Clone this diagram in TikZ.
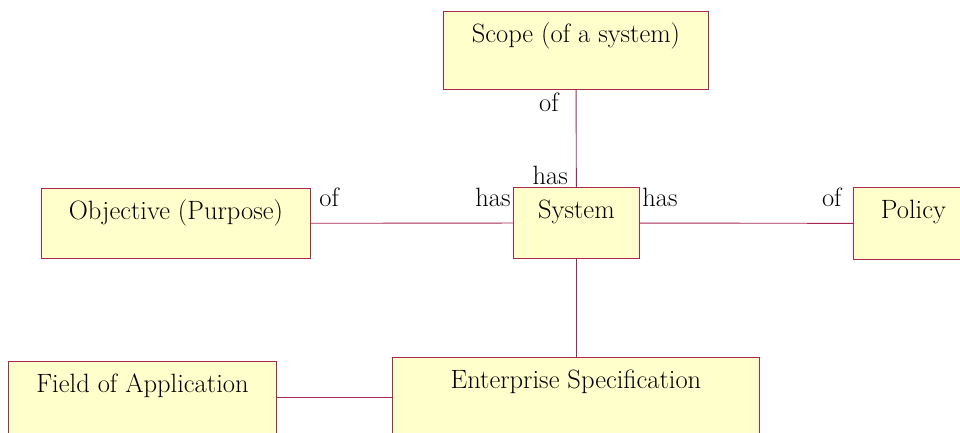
\documentclass[tikz,border=0pt]{standalone}
\usetikzlibrary{positioning}
\definecolor{boxfill}{RGB}{255,255,204}
\definecolor{boxline}{RGB}{168,40,80}
\begin{document}
\begin{tikzpicture}[x=1pt,y=-1pt,
    box/.style={draw=boxline,fill=boxfill,line width=0.9pt,anchor=north west,
      inner xsep=0pt,inner ysep=0pt,text height=31pt,
      font=\fontsize{26.5}{30}\selectfont},
    link/.style={draw=boxline,line width=0.9pt},
    role/.style={font=\fontsize{26.5}{30}\selectfont,inner sep=2pt}]
    \clip (0,0) rectangle (960,432);
    \node[box,minimum width=265pt,text depth=47pt] (scope) at (443,11) {Scope (of a system)};
    \node[box,minimum width=126pt,text depth=40pt] (system) at (513,187) {System};
    \node[box,minimum width=269pt,text depth=39pt] (objective) at (41,188) {Objective (Purpose)};
    \node[box,minimum width=120pt,text depth=41pt] (policy) at (853,187) {Policy};
    \node[box,minimum width=268pt,text depth=41pt] (field) at (8,361) {Field of Application};
    \node[box,minimum width=367pt,text depth=60pt] (spec) at (392,357) {Enterprise Specification};
    \draw[link] (scope) -- (system)
      node[role,pos=0,anchor=north east,xshift=-15pt,yshift=-1pt] (ofscope) {of}
      node[role,pos=1,anchor=south east,xshift=-6pt] (hasscope) {has};
    \draw[link] (objective) -- (system)
      node[role,pos=0,anchor=south west,xshift=6pt,yshift=14pt] (ofobj) {of}
      node[role,pos=1,anchor=south east,yshift=14pt] (hasobj) {has};
    \draw[link] (system) -- (policy)
      node[role,pos=0,anchor=south west,yshift=14pt] (haspol) {has}
      node[role,pos=1,anchor=south east,xshift=-9pt,yshift=14pt] (ofpol) {of};
    \draw[link] (system.south) -- (system.south |- spec.north);
    \draw[link] (field) -- (field -| spec.west);
\end{tikzpicture}
\end{document}
